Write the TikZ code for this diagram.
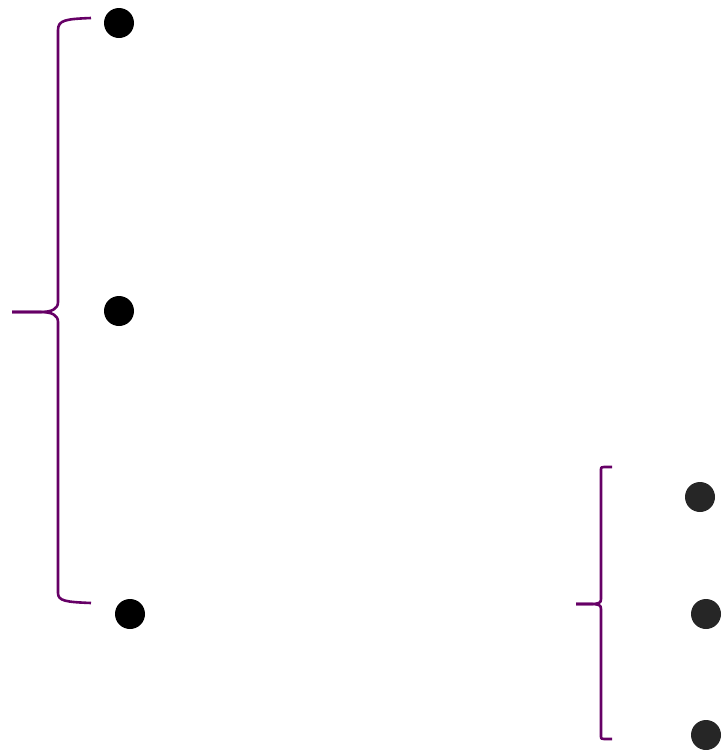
\documentclass[tikz,border=0pt]{standalone}
\begin{document}
\begin{tikzpicture}[x=1pt,y=-1pt,
  bigdot/.style={circle,fill=black,inner sep=0pt,minimum size=30pt},
  greydot/.style={circle,fill=black!85,inner sep=0pt,minimum size=30pt},
  bracepath/.style={color={rgb,255:red,102;green,0;blue,102},line width=2.6pt,line join=round}]
\useasboundingbox (0,0) rectangle (724,750);
\node[bigdot] (d1) at (119,23) {};
\node[bigdot] (d2) at (119,311) {};
\node[bigdot] (d3) at (130,614) {};
\node[greydot] (e1) at (700,497) {};
\node[greydot] (e2) at (706,614) {};
\node[greydot] (e3) at (706,735) {};
% big brace
\draw[bracepath] (91,18) .. controls (66,19) and (58,20) .. (58,30)
  -- (58,302) .. controls (58,309) and (52,312) .. (40,312) -- (12,312);
\draw[bracepath] (12,312) -- (40,312) .. controls (52,312) and (58,315) .. (58,322)
  -- (58,593) .. controls (58,601) and (66,602) .. (91,603);
% small brace
\draw[bracepath] (612,467) -- (604,467) .. controls (601,467) .. (601,471)
  -- (601,599) .. controls (601,603) and (599,604) .. (590,604) -- (576,604);
\draw[bracepath] (576,604) -- (590,604) .. controls (599,604) and (601,605) .. (601,609)
  -- (601,735) .. controls (601,739) .. (604,739) -- (612,739);
\end{tikzpicture}
\end{document}
